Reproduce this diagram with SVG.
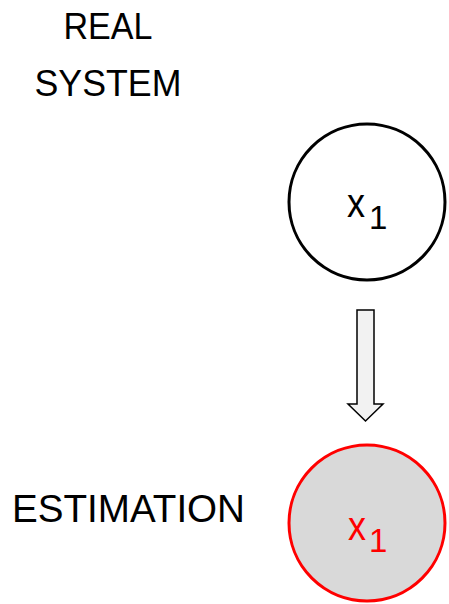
<svg xmlns="http://www.w3.org/2000/svg" width="449" height="604" viewBox="0 0 449 604">
  <style>
    .label { font-family: "Liberation Sans", Arial, sans-serif; fill: #000; }
    .var { font-family: "Liberation Sans", Arial, sans-serif; }
    .real circle { fill: #fff; stroke: #000; stroke-width: 3; }
    .est circle { fill: #d9d9d9; stroke: #ff0000; stroke-width: 3; }
    .real text { fill: #000; }
    .est text { fill: #ff0000; }
  </style>
  <rect width="449" height="604" fill="#fff"/>

  <!-- side labels -->
  <text class="label" x="108" y="39" font-size="37" text-anchor="middle" textLength="89" lengthAdjust="spacingAndGlyphs">REAL</text>
  <text class="label" x="108" y="96" font-size="37" text-anchor="middle" textLength="147" lengthAdjust="spacingAndGlyphs">SYSTEM</text>
  <text class="label" x="12" y="522" font-size="38" textLength="233" lengthAdjust="spacingAndGlyphs">ESTIMATION</text>

  <!-- state of the real system -->
  <g id="real-x1" class="real">
    <circle cx="367" cy="202" r="78"/>
    <text class="var" x="347" y="217" font-size="41" textLength="18" lengthAdjust="spacingAndGlyphs">x</text>
    <text class="var" x="369" y="229" font-size="33">1</text>
  </g>

  <!-- estimated state -->
  <g id="est-x1" class="est">
    <circle cx="367" cy="523" r="78"/>
    <text class="var" x="348" y="540" font-size="41" textLength="18" lengthAdjust="spacingAndGlyphs">x</text>
    <text class="var" x="369" y="552" font-size="33">1</text>
  </g>

  <!-- block arrow from real system to estimation -->
  <g id="connectors">
    <path d="M357,310 H374 V404 H383 L365.5,421 L348,404 H357 Z" fill="#f2f2f2" stroke="#000" stroke-width="1.5" stroke-linejoin="miter"/>
  </g>
</svg>
